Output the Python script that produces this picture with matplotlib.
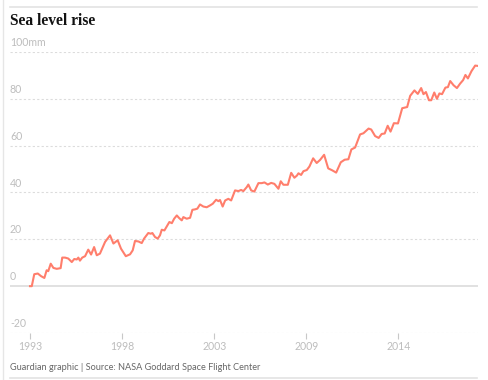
import matplotlib.pyplot as plt
from matplotlib.lines import Line2D

# sea level change (mm) against decimal year
years = [1993.00, 1993.10, 1993.24, 1993.44, 1993.62, 1993.81, 1993.94, 1994.03, 1994.17, 1994.32,
         1994.51, 1994.73, 1994.82, 1994.98, 1995.16, 1995.36, 1995.50, 1995.64, 1995.73, 1995.82,
         1995.95, 1996.11, 1996.29, 1996.45, 1996.62, 1996.77, 1996.95, 1997.24, 1997.52, 1997.71,
         1997.95, 1998.14, 1998.41, 1998.65, 1998.80, 1998.93, 1999.12, 1999.31, 1999.44, 1999.68,
         1999.82, 1999.91, 2000.06, 2000.21, 2000.34, 2000.44, 2000.59, 2000.72, 2000.87, 2001.01,
         2001.14, 2001.29, 2001.42, 2001.57, 2001.66, 2001.85, 2002.04, 2002.17, 2002.32, 2002.45,
         2002.60, 2002.79, 2002.98, 2003.17, 2003.32, 2003.51, 2003.64, 2003.73, 2003.88, 2004.02,
         2004.20, 2004.36, 2004.58, 2004.77, 2004.92, 2005.05, 2005.24, 2005.33, 2005.49, 2005.67,
         2005.90, 2006.09, 2006.24, 2006.43, 2006.62, 2006.80, 2007.03, 2007.16, 2007.31, 2007.56,
         2007.75, 2007.93, 2008.07, 2008.16, 2008.31, 2008.44, 2008.63, 2008.78, 2008.99, 2009.19,
         2009.38, 2009.61, 2009.84, 2010.06, 2010.29, 2010.55, 2010.77, 2010.98, 2011.15, 2011.36,
         2011.64, 2011.83, 2012.12, 2012.27, 2012.49, 2012.69, 2012.86, 2013.03, 2013.20, 2013.36,
         2013.55, 2013.78, 2014.02, 2014.30, 2014.47, 2014.71, 2014.90, 2015.09, 2015.22, 2015.36,
         2015.53, 2015.66, 2015.83, 2015.98, 2016.12, 2016.27, 2016.46, 2016.60, 2016.73, 2016.92,
         2017.11, 2017.29, 2017.46, 2017.59, 2017.73, 2017.93, 2018.14, 2018.25]
sea_level = [0.0, 0.0, 5.1, 5.4, 4.3, 3.5, 6.8, 6.4, 9.6, 7.8,
             7.4, 7.7, 12.2, 12.2, 11.8, 10.3, 11.6, 11.4, 12.2, 10.9,
             12.2, 12.8, 15.6, 13.5, 16.7, 13.2, 13.9, 18.9, 21.7, 18.2,
             19.6, 16.0, 12.8, 13.6, 15.3, 19.3, 19.1, 18.4, 20.3, 22.7,
             22.4, 22.7, 21.0, 20.3, 21.7, 24.1, 23.8, 25.5, 27.4, 26.9,
             28.8, 30.2, 29.1, 28.1, 29.5, 28.8, 29.2, 32.6, 32.8, 33.1,
             34.9, 34.0, 33.7, 34.5, 35.2, 36.9, 36.3, 36.8, 34.0, 36.6,
             37.3, 36.6, 40.9, 40.6, 41.1, 40.6, 42.3, 43.4, 40.9, 40.4,
             44.0, 44.0, 44.3, 43.4, 44.1, 43.7, 41.6, 44.8, 43.3, 43.3,
             48.4, 46.3, 47.2, 48.2, 47.5, 49.1, 49.6, 51.1, 54.6, 52.6,
             53.9, 56.1, 50.3, 49.5, 48.5, 52.9, 54.0, 54.2, 58.4, 59.2,
             64.8, 65.3, 67.3, 66.9, 64.1, 63.3, 65.0, 65.2, 68.5, 66.0,
             69.6, 69.5, 76.0, 76.5, 81.3, 83.6, 82.1, 84.6, 82.0, 82.9,
             79.4, 79.4, 82.7, 80.0, 82.3, 82.0, 84.8, 85.0, 87.6, 85.8,
             84.6, 86.5, 88.0, 90.2, 88.7, 91.8, 94.2, 94.1]

y_ticks = [-20, 0, 20, 40, 60, 80, 100]
y_labels = ["-20", "0", "20", "40", "60", "80", "100mm"]
x_ticks = [1993, 1998.2, 2003.4, 2008.6, 2013.8]
x_labels = ["1993", "1998", "2003", "2009", "2014"]

grid_col = "#dcdcdc"
label_col = "#bdbdbd"

fig = plt.figure(figsize=(4.89, 3.8), dpi=100)
ax = fig.add_axes([10/489, 1 - 333/380, 468/489, 281/380])
ax.set_xlim(1991.87, 2018.3)
ax.set_ylim(-20, 100)

for v, lab in zip(y_ticks, y_labels):
    if v == 0:
        ax.axhline(v, color=grid_col, lw=1.2, zorder=1)
    else:
        ax.axhline(v, color=grid_col, lw=0.8, ls=(0, (2, 2)), zorder=1)
    ax.text(0, v + 1.7, lab, transform=ax.get_yaxis_transform(), ha="left", va="bottom",
            fontsize=7.6, color=label_col, family="Lato")

ax.plot(years, sea_level, color="#ff7e6c", lw=1.5, solid_joinstyle="round", zorder=3)

ax.set_xticks(x_ticks)
ax.set_xticklabels(x_labels, fontsize=7.6, color=label_col, family="Lato")
ax.tick_params(axis="x", length=4, width=0.8, color="#c8c8c8", pad=2)
ax.set_yticks([])
for s in ax.spines.values():
    s.set_visible(False)
ax.set_facecolor("none")

# frame lines around the graphic
fig.add_artist(Line2D([3/489, 3/489], [0, 1], color="#e6e6e6", lw=1))
fig.add_artist(Line2D([10/489, 477/489], [1 - 7/380, 1 - 7/380], color="#e3e3e3", lw=1.2))
fig.add_artist(Line2D([10/489, 477/489], [1 - 378/380, 1 - 378/380], color="#e3e3e3", lw=1.2))

fig.text(10/489, 1 - 21/380, "Sea level rise", fontsize=11.2, fontweight="bold",
         family="Liberation Serif", va="center", ha="left", color="#121212")
fig.text(10/489, 1 - 367/380, "Guardian graphic | Source: NASA Goddard Space Flight Center",
         fontsize=6.6, family="Lato", va="center", ha="left", color="#666666")

fig.savefig("out.png", dpi=100)
